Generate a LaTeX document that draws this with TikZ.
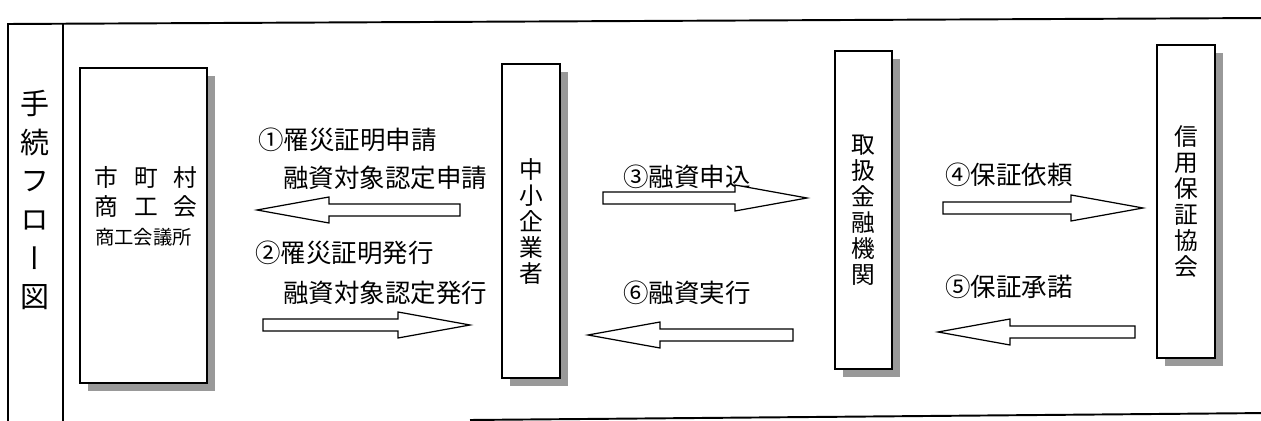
\documentclass[tikz,border=0pt]{standalone}
\usepackage{fontspec}
\setmainfont{Noto Sans CJK JP}
\newfontfamily\tatefont[RawFeature=+vert]{Noto Sans CJK JP}
\usetikzlibrary{calc,shadows}

\begin{document}
\begin{tikzpicture}[x=0.02cm,y=-0.02cm,
    rahmen/.style={line width=1.1pt},
    kasten/.style={draw=black,line width=0.9pt,fill=white,inner sep=0pt,
      drop shadow={fill=gray!80,opacity=1,shadow xshift=0.16cm,shadow yshift=-0.16cm}},
    tate/.style={font=\tatefont\fontsize{13.5pt}{14.8pt}\selectfont,align=center},
    beschriftung/.style={anchor=west,inner sep=0pt,font=\fontsize{14.5pt}{16pt}\selectfont},
    pfeil/.style={draw=black,line width=0.7pt,fill=white,
      to path={let \p1=(\tikztostart),\p2=(\tikztotarget),\n1={sign(\x2-\x1)} in
        (\x1,\y1+0.12cm) -- (\x2-\n1*1.44cm,\y1+0.12cm) -- (\x2-\n1*1.44cm,\y1+0.26cm)
        -- (\x2,\y2) -- (\x2-\n1*1.44cm,\y1-0.26cm) -- (\x2-\n1*1.44cm,\y1-0.12cm)
        -- (\x1,\y1-0.12cm) -- cycle}}]

    \useasboundingbox (0,0) rectangle (1261,421);
    \clip (0,0) rectangle (1261,421);

    % Rahmen
    \draw[rahmen] (8,430) -- (8,24) -- (1270,18);
    \draw[rahmen] (63,430) -- (63,23.7);
    \draw[rahmen] (470,420) -- (1270,413);

    % Titel
    \node[align=center,font=\tatefont\fontsize{16.5pt}{22pt}\selectfont] (titel) at (35,200)
      {手\\続\\フ\\ロ\\ー\\図};

    % Kaesten
    \node[kasten,minimum width=2.54cm,minimum height=6.3cm] (stadt) at (143.5,225.5) {};
    \node[kasten,tate,minimum width=1.16cm,minimum height=6.28cm] (firma) at (531,221)
      {中\\小\\企\\業\\者};
    \node[kasten,tate,minimum width=1.14cm,minimum height=6.36cm] (bank) at (863.5,210)
      {取\\扱\\金\\融\\機\\関};
    \node[kasten,tate,minimum width=1.16cm,minimum height=6.26cm] (verband) at (1186,201.5)
      {信\\用\\保\\証\\協\\会};

    % Stadt / Handelskammer
    \node[font=\fontsize{13.5pt}{15pt}\selectfont] (stadt1) at (146,177)
      {市\hspace{0.32cm}町\hspace{0.32cm}村};
    \node[font=\fontsize{13.5pt}{15pt}\selectfont] (stadt2) at (146,207)
      {商\hspace{0.32cm}工\hspace{0.32cm}会};
    \node[font=\fontsize{11pt}{13pt}\selectfont] (stadt3) at (143.5,237) {商工会議所};

    % Beschriftungen
    \node[beschriftung] (l1a) at (258,140) {①罹災証明申請};
    \node[beschriftung] (l1b) at (283,178) {融資対象認定申請};
    \node[beschriftung] (l2a) at (255,253) {②罹災証明発行};
    \node[beschriftung] (l2b) at (283,293) {融資対象認定発行};
    \node[beschriftung] (l3) at (623,177) {③融資申込};
    \node[beschriftung] (l6) at (623,293) {⑥融資実行};
    \node[beschriftung] (l4) at (945,175) {④保証依頼};
    \node[beschriftung] (l5) at (945,287) {⑤保証承諾};

    % Pfeile
    \coordinate (von1) at (460,210);  \coordinate (nach1) at (257,210);
    \coordinate (von2) at (263,325);  \coordinate (nach2) at (470,325);
    \coordinate (von3) at (603,198);  \coordinate (nach3) at (807,198);
    \coordinate (von4) at (943,208);  \coordinate (nach4) at (1143,208);
    \coordinate (von5) at (1135,332); \coordinate (nach5) at (938,332);
    \coordinate (von6) at (793,335);  \coordinate (nach6) at (588,335);
    \foreach \i in {1,...,6}
      \draw[pfeil] (von\i) to (nach\i);
  \end{tikzpicture}
\end{document}
